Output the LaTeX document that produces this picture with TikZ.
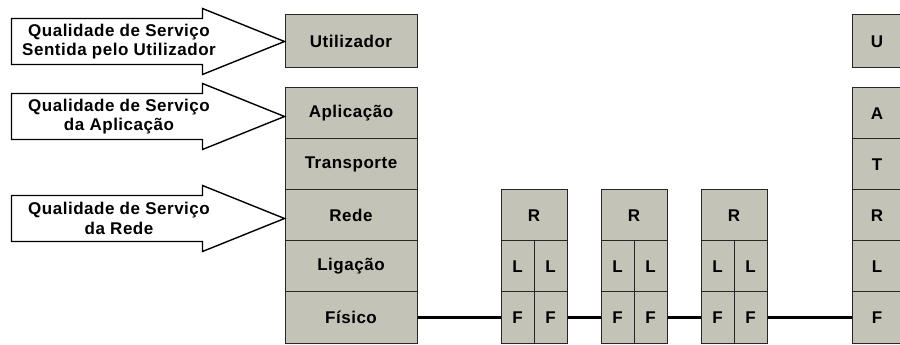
\documentclass[tikz,border=0pt]{standalone}
\usepackage{fontspec}
\setsansfont{Liberation Sans}[LetterSpace=3]
\definecolor{camada}{RGB}{195,195,183}

\begin{document}
\begin{tikzpicture}[x=0.25mm,y=-0.25mm,
		layer/.style={draw=black!85,line width=0.25mm,fill=camada,inner sep=0pt,
			minimum width=33mm,minimum height=12.75mm,
			font=\sffamily\bfseries\fontsize{12.1}{13.9}\selectfont},
		cell/.style={layer,minimum width=8.25mm},
		link/.style={line width=0.75mm},
		qos/.style={draw=black,line width=0.35mm,fill=white},
		qostext/.style={align=center,inner sep=0pt,
			font=\sffamily\bfseries\fontsize{12.1}{13.9}\selectfont}]
		\clip (0,0) rectangle (900,345);

		% pilha do terminal de origem
		\node[layer,minimum height=13.25mm] (util) at (351,41.5) {Utilizador};
		\node[layer] (apl) at (351,113.5) {Aplicação};
		\node[layer] (tra) at (351,164.5) {Transporte};
		\node[layer] (red) at (351,215.5) {Rede};
		\node[layer] (lig) at (351,266.5) {Ligação};
		\node[layer] (fis) at (351,317.5) {Físico};

		% encaminhadores intermédios
		\foreach \i/\x in {1/534,2/634,3/734} {
			\node[layer,minimum width=16.5mm] (r\i) at (\x,215.5) {R};
			\node[cell] (r\i la) at (\x-16.5,266.5) {L};
			\node[cell] (r\i lb) at (\x+16.5,266.5) {L};
			\node[cell] (r\i fa) at (\x-16.5,317.5) {F};
			\node[cell] (r\i fb) at (\x+16.5,317.5) {F};
		}

		% pilha do terminal de destino
		\node[layer,minimum width=12.5mm,minimum height=13.25mm] (dutil) at (877,41.5) {U};
		\node[layer,minimum width=12.5mm] (dapl) at (877,113.5) {A};
		\node[layer,minimum width=12.5mm] (dtra) at (877,164.5) {T};
		\node[layer,minimum width=12.5mm] (dred) at (877,215.5) {R};
		\node[layer,minimum width=12.5mm] (dlig) at (877,266.5) {L};
		\node[layer,minimum width=12.5mm] (dfis) at (877,317.5) {F};

		% ligacoes fisicas
		\draw[link] (fis.east) -- (r1fa.west);
		\draw[link] (r1fb.east) -- (r2fa.west);
		\draw[link] (r2fb.east) -- (r3fa.west);
		\draw[link] (r3fb.east) -- (dfis.west);

		% setas de qualidade de servico
		\draw[qos] (util.west) -- ++(-82,-33) -- ++(0,10) -- ++(-191,0) -- ++(0,46)
			-- ++(191,0) -- ++(0,10) -- cycle;
		\node[qostext] (qutil) at (119,41.5) {Qualidade de Serviço\\Sentida pelo Utilizador};
		\draw[qos] ([yshift=-0.75mm]apl.west) -- ++(-82,-33) -- ++(0,10) -- ++(-191,0) -- ++(0,46)
			-- ++(191,0) -- ++(0,10) -- cycle;
		\node[qostext] (qapl) at (119,116.5) {Qualidade de Serviço\\da Aplicação};
		\draw[qos] ([yshift=-0.75mm]red.west) -- ++(-82,-33) -- ++(0,10) -- ++(-191,0) -- ++(0,46)
			-- ++(191,0) -- ++(0,10) -- cycle;
		\node[qostext] (qred) at (119,218.5) {Qualidade de Serviço\\da Rede};
	\end{tikzpicture}
\end{document}
